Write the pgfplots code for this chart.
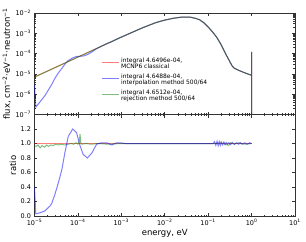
\documentclass[border=0pt]{standalone}
\usepackage{fontspec}
\setmainfont{DejaVu Sans}
\usepackage{pgfplots}
\pgfplotsset{compat=1.18}
\definecolor{plotred}{RGB}{255,0,0}
\definecolor{plotblue}{RGB}{0,0,255}
\definecolor{plotgreen}{RGB}{0,128,0}
\tikzset{
  mylr/.style={draw=plotred, opacity=0.5, line width=1bp},
  mylb/.style={draw=plotblue, opacity=0.5, line width=1bp},
  mylg/.style={draw=plotgreen, opacity=0.5, line width=1bp},
}
\begin{document}
\begin{tikzpicture}
\begin{axis}[
  scale only axis, width=260.5bp, height=101.5bp,
  xmode=log, xmin=1e-5, xmax=10,
  xtick={1e-5,1e-4,1e-3,1e-2,1e-1,1,10},
  tick align=inside,
  major tick length=3bp, minor tick length=1.5bp,
  axis line style={line width=0.6bp, black!80},
  tick style={black!80, line width=0.5bp},
  tick label style={font=\fontsize{6.5}{7}\selectfont},
  label style={font=\fontsize{8.5}{10}\selectfont},
  at={(34.5bp,127.5bp)}, anchor=south west,
  ymode=log, ymin=1e-7, ymax=1e-2,
  xticklabels={},
  ytick={1e-7,1e-6,1e-5,1e-4,1e-3,1e-2},
  yticklabels={10\textsuperscript{−7},10\textsuperscript{−6},10\textsuperscript{−5},10\textsuperscript{−4},10\textsuperscript{−3},10\textsuperscript{−2}},
  ylabel={flux, cm\textsuperscript{−2}·eV\textsuperscript{−1}·neutron\textsuperscript{−1}},
  ylabel style={at={(axis description cs:-0.106,0.5)}, anchor=center},
  legend style={draw=none, fill=none, at={(axis description cs:0.255,0.58)}, anchor=north west,
    font=\fontsize{6}{6.5}\selectfont, row sep=2.5bp, inner sep=0pt},
  legend cell align=left,
]
\addplot[mylr] coordinates {
(1e-5,7.08e-6) (1e-4,6.76e-5) (1e-3,6.46e-4) (3.16e-3,1.91e-3) (6.31e-3,3.39e-3)
(1e-2,4.47e-3) (1.58e-2,5.50e-3) (2.51e-2,6.31e-3) (3.98e-2,6.17e-3) (5.01e-2,5.50e-3)
(6.31e-2,4.68e-3) (7.94e-2,3.31e-3) (0.1,2.04e-3) (0.126,1.17e-3) (0.158,6.31e-4)
(0.2,2.69e-4) (0.251,1.0e-4) (0.316,3.98e-5) (0.355,2.51e-5) (0.398,1.91e-5)
(0.501,1.51e-5) (0.631,1.23e-5) (0.794,1.02e-5) (1.0,8.51e-6) (1.0,1.2e-4) (1.0,1e-9)
};
\addlegendentry{\begin{tabular}{@{}l@{}}integral 4.6496e-04,\\MCNP6 classical\end{tabular}}
\addplot[mylb] coordinates {
(1e-5,2.82e-6) (1.07e-5,2.29e-7) (1.35e-5,4.27e-7) (1.74e-5,8.5e-7) (2.29e-5,2.24e-6)
(2.5e-5,3.05e-6) (2.96e-5,6.1e-6) (3.55e-5,1.12e-5) (4.27e-5,1.87e-5) (5.0e-5,3.0e-5)
(6.0e-5,4.52e-5) (7.6e-5,6.18e-5) (9.3e-5,7.25e-5) (1.12e-4,7.4e-5) (1.32e-4,7.55e-5)
(1.65e-4,8.9e-5) (2.1e-4,1.2e-4) (2.7e-4,1.76e-4) (3.5e-4,2.36e-4)
(4.57e-4,3.09e-4) (6.03e-4,3.89e-4) (7.76e-4,5.13e-4) (9.33e-4,6.17e-4)
(3.16e-3,1.91e-3) (6.31e-3,3.39e-3)
(1e-2,4.47e-3) (1.58e-2,5.50e-3) (2.51e-2,6.31e-3) (3.98e-2,6.17e-3) (5.01e-2,5.50e-3)
(6.31e-2,4.68e-3) (7.94e-2,3.31e-3) (0.1,2.04e-3) (0.126,1.17e-3) (0.158,6.31e-4)
(0.2,2.69e-4) (0.251,1.0e-4) (0.316,3.98e-5) (0.355,2.51e-5) (0.398,1.91e-5)
(0.501,1.51e-5) (0.631,1.23e-5) (0.794,1.02e-5) (1.0,8.51e-6) (1.0,1.2e-4) (1.0,1e-9)
};
\addlegendentry{\begin{tabular}{@{}l@{}}integral 4.6488e-04,\\interpolation method 500/64\end{tabular}}
\addplot[mylg] coordinates {
(1e-5,6.9e-6) (1e-4,6.72e-5) (1e-3,6.46e-4) (3.16e-3,1.91e-3) (6.31e-3,3.39e-3)
(1e-2,4.47e-3) (1.58e-2,5.50e-3) (2.51e-2,6.31e-3) (3.98e-2,6.17e-3) (5.01e-2,5.50e-3)
(6.31e-2,4.68e-3) (7.94e-2,3.31e-3) (0.1,2.04e-3) (0.126,1.17e-3) (0.158,6.31e-4)
(0.2,2.69e-4) (0.251,1.0e-4) (0.316,3.98e-5) (0.355,2.51e-5) (0.398,1.91e-5)
(0.501,1.51e-5) (0.631,1.23e-5) (0.794,1.02e-5) (1.0,8.51e-6) (1.0,1.2e-4) (1.0,1e-9)
};
\addlegendentry{\begin{tabular}{@{}l@{}}integral 4.6512e-04,\\rejection method 500/64\end{tabular}}
\end{axis}
\begin{axis}[
  scale only axis, width=260.5bp, height=101.5bp,
  xmode=log, xmin=1e-5, xmax=10,
  xtick={1e-5,1e-4,1e-3,1e-2,1e-1,1,10},
  tick align=inside,
  major tick length=3bp, minor tick length=1.5bp,
  axis line style={line width=0.6bp, black!80},
  tick style={black!80, line width=0.5bp},
  tick label style={font=\fontsize{6.5}{7}\selectfont},
  label style={font=\fontsize{8.5}{10}\selectfont},
  at={(34.5bp,26bp)}, anchor=south west,
  ymin=0, ymax=1.4,
  ytick={0,0.2,0.4,0.6,0.8,1.0,1.2},
  yticklabels={0.0,0.2,0.4,0.6,0.8,1.0,1.2},
  xticklabels={10\textsuperscript{−5},10\textsuperscript{−4},10\textsuperscript{−3},10\textsuperscript{−2},10\textsuperscript{−1},10\textsuperscript{0},10\textsuperscript{1}},
  xlabel={energy, eV},
  ylabel={ratio},
  ylabel style={at={(axis description cs:-0.083,0.5)}, anchor=center},
  xlabel style={at={(axis description cs:0.5,-0.17)}, anchor=center},
]
\addplot[mylr] coordinates {(1e-5,1.0) (1.0,1.0)};
\addplot[mylg] coordinates {
(1e-5,0.97) (1.1e-5,0.96) (1.2e-5,0.98) (1.35e-5,0.94) (1.5e-5,0.97) (1.7e-5,0.95)
(1.9e-5,0.98) (2.1e-5,0.96) (2.4e-5,0.98) (2.7e-5,0.97) (3e-5,0.99) (3.5e-5,0.98)
(4e-5,0.99) (5e-5,0.98) (6e-5,0.99) (7e-5,1.0) (8e-5,0.99) (9e-5,1.01) (1.0e-4,0.99)
(1.08e-4,1.04) (1.12e-4,1.13) (1.16e-4,1.01) (1.25e-4,0.99) (1.5e-4,1.0) (2e-4,0.99)
(3e-4,1.0) (5e-4,0.99) (1e-3,1.0) (1e-2,1.0) (0.1,1.0) (0.15,1.0) (0.2,1.01) (0.25,0.99)
(0.3,0.975) (0.33,1.01) (0.4,0.99) (0.5,1.01) (0.7,0.99) (1.0,1.0)
};
\addplot[mylb] coordinates {
(1e-5,0.40) (1.07e-5,0.03) (1.35e-5,0.045) (1.74e-5,0.07) (2.29e-5,0.14) (2.5e-5,0.175)
(2.96e-5,0.30) (3.55e-5,0.46) (4.27e-5,0.64) (5.0e-5,0.87) (6.0e-5,1.10) (7.6e-5,1.20)
(9.3e-5,1.15) (1.12e-4,0.97) (1.32e-4,0.85) (1.65e-4,0.80) (2.1e-4,0.87) (2.7e-4,0.99)
(3.5e-4,1.01) (4.57e-4,1.01) (6.03e-4,0.98) (7.76e-4,1.01) (9.33e-4,1.01)
(1.23e-3,1.0) (1e-2,1.0) (0.13,1.0) (0.14,1.025) (0.15,0.975) (0.16,1.03) (0.17,0.97)
(0.18,1.025) (0.19,0.975) (0.20,1.02) (0.215,0.98) (0.23,1.02) (0.245,0.985) (0.26,1.015)
(0.28,0.99) (0.30,1.01) (0.33,0.985) (0.36,1.015) (0.4,0.99) (0.45,1.01) (0.5,0.99)
(0.55,1.01) (0.6,0.99) (0.7,1.01) (0.8,0.99) (0.9,1.01) (1.0,1.0)
};
\end{axis}
\pgfresetboundingbox
\path[use as bounding box] (0,0) rectangle (306bp,242bp);
\end{tikzpicture}
\end{document}
